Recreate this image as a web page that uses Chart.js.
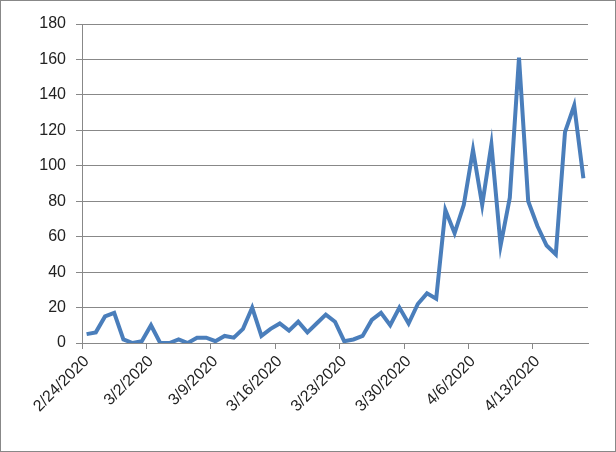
<!DOCTYPE html>
<html><head><script src="https://cdn.jsdelivr.net/npm/chart.js"></script>
<style>body{margin:0;background:#fff}#w{position:absolute;left:0;top:0;width:614px;height:450px;border:1px solid #888}</style></head>
<body><div id="w"><canvas id="c"></canvas></div>
<script>
const startDate = [2020, 1, 24];
const values = [5,6,15,17,2,0,1,10,0,0,2,0,3,3,1,4,3,8,20,4,8,11,7,12,6,11,16,12,1,2,4,13,17,10,20,11,22,28,25,75,62,78,109,78,112,55,82,161,80,66,55,50,119,134,93];
const yTicks = [0,20,40,60,80,100,120,140,160,180];
const labels = values.map((_, i) => { const d = new Date(startDate[0], startDate[1], startDate[2] + i); return (d.getMonth()+1) + '/' + d.getDate() + '/' + d.getFullYear(); });
new Chart(document.getElementById('c'), {
  type: 'line',
  data: { labels, datasets: [{ data: values, borderColor: '#4a7ebb', borderWidth: 4, pointRadius: 0, tension: 0, fill: false }] },
  options: {
    responsive: true, maintainAspectRatio: false, animation: false,
    layout: { padding: { left: 0, right: 27, top: 23, bottom: 4 } },
    plugins: { legend: { display: false }, tooltip: { enabled: false } },
    scales: {
      x: { offset: true, afterFit: (ax) => { ax.height = 104; },
        grid: { offset: true, drawOnChartArea: false, color: '#888', tickLength: 6, tickColor: (ctx) => (ctx.index % 7 === 0 ? '#888' : 'rgba(0,0,0,0)') },
        border: { color: '#888' },
        ticks: { autoSkip: false, maxRotation: 45, minRotation: 45, color: '#222', font: { family: 'Liberation Sans', size: 16 },
          callback: (v, i) => (i % 7 === 0 ? labels[i] : '') } },
      y: { min: 0, max: 180, afterFit: (ax) => { ax.width = 81; },
        afterBuildTicks: (ax) => { ax.ticks = yTicks.map(v => ({ value: v })); },
        grid: { color: '#888', tickLength: 6 }, border: { color: '#888' },
        ticks: { color: '#222', padding: 10, font: { family: 'Liberation Sans', size: 16 } } }
    }
  }
});
</script></body></html>
